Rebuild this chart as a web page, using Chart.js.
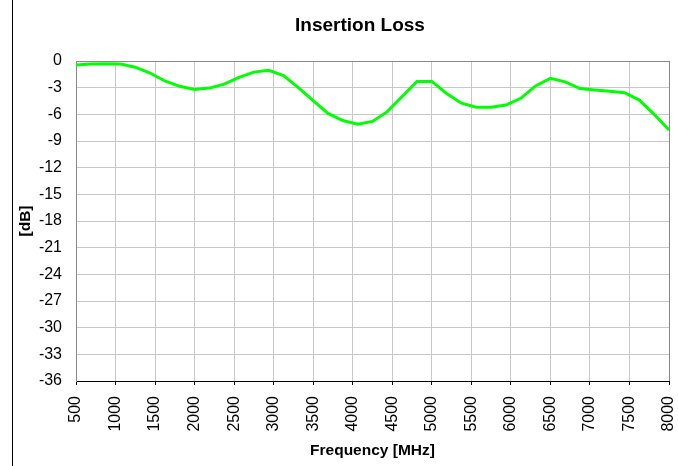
<!DOCTYPE html>
<html>
<head>
<meta charset="utf-8">
<script src="https://cdn.jsdelivr.net/npm/chart.js@4.4.1/dist/chart.umd.min.js"></script>
<style>
  body { margin: 0; background: #fff; }
  #wrap { position: relative; width: 678px; height: 466px; }
  #edge { position: absolute; left: 12px; top: 0; width: 1px; height: 466px; background: #000; }
</style>
</head>
<body>
<div id="wrap">
  <canvas id="graph" width="678" height="466"></canvas>
  <div id="edge"></div>
</div>
<script>
const chartTitle = "Insertion Loss";
const xTitle = "Frequency [MHz]";
const yTitle = "[dB]";

const freqMHz = [500, 687.5, 875, 1062.5, 1250, 1437.5, 1625, 1812.5, 2000, 2187.5,
  2375, 2562.5, 2750, 2937.5, 3125, 3312.5, 3500, 3687.5, 3875, 4062.5,
  4250, 4437.5, 4625, 4812.5, 5000, 5187.5, 5375, 5562.5, 5750, 5937.5,
  6125, 6312.5, 6500, 6687.5, 6875, 7062.5, 7250, 7437.5, 7625, 7812.5, 8000];
const lossDb = [-0.45, -0.35, -0.3, -0.34, -0.7, -1.35, -2.25, -2.85, -3.2, -3.05,
  -2.6, -1.85, -1.25, -1.05, -1.65, -3.0, -4.45, -5.9, -6.7, -7.1,
  -6.8, -5.7, -4.0, -2.3, -2.3, -3.65, -4.75, -5.2, -5.2, -4.95,
  -4.2, -2.8, -1.95, -2.35, -3.1, -3.25, -3.4, -3.56, -4.4, -6.0, -7.76];

const font = "'Liberation Sans', Arial, sans-serif";

//draws the chart title above the plot
const titlePlugin = {
  id: "topTitle",
  afterDraw(chart) {
    const ctx = chart.ctx;
    ctx.save();
    ctx.font = "bold 19px " + font;
    ctx.fillStyle = "#000";
    ctx.textAlign = "center";
    ctx.textBaseline = "middle";
    ctx.fillText(chartTitle, 360, 26);
    ctx.restore();
  }
};

window.onload = function () {
  const points = freqMHz.map((f, i) => ({ x: f, y: lossDb[i] }));

  new Chart(document.querySelector("#graph"), {
    type: "line",
    data: {
      datasets: [{
        label: chartTitle,
        data: points,
        borderColor: "#00ff00",
        borderWidth: 3,
        pointRadius: 0,
        tension: 0,
        fill: false
      }]
    },
    options: {
      responsive: false,
      animation: false,
      devicePixelRatio: 1,
      layout: { padding: { left: 16, top: 61, right: 9, bottom: 0 } },
      plugins: {
        legend: { display: false },
        title: { display: false },
        tooltip: { enabled: false }
      },
      scales: {
        x: {
          type: "linear",
          min: 500,
          max: 8000,
          afterFit: (s) => { s.height = 85; s.paddingLeft = 0; s.paddingRight = 0; },
          ticks: {
            stepSize: 500,
            minRotation: 90,
            maxRotation: 90,
            padding: 11,
            color: "#000",
            font: { family: font, size: 16 },
            callback: (v) => String(v)
          },
          grid: {
            color: (c) => (c.tick && (c.tick.value === 500 || c.tick.value === 8000)) ? "#888" : "#c8c8c8",
            tickColor: "#000",
            tickLength: 4,
            lineWidth: 1
          },
          border: { color: "#000", width: 1 },
          title: {
            display: true,
            text: xTitle,
            color: "#000",
            font: { family: font, size: 15.5, weight: "bold" },
            padding: { top: 0, bottom: 6 }
          }
        },
        y: {
          min: -36,
          max: 0,
          afterFit: (s) => { s.width = 60; },
          ticks: {
            stepSize: 3,
            padding: 14,
            color: "#000",
            font: { family: font, size: 16 }
          },
          grid: {
            color: (c) => (c.tick && c.tick.value === 0) ? "#888" : "#c8c8c8",
            drawTicks: false,
            lineWidth: 1
          },
          border: { color: "#888", width: 1 },
          title: {
            display: true,
            text: yTitle,
            color: "#000",
            font: { family: font, size: 15.5, weight: "bold" },
            padding: { top: 0, bottom: 0 }
          }
        }
      }
    },
    plugins: [titlePlugin]
  });
};
</script>
</body>
</html>
